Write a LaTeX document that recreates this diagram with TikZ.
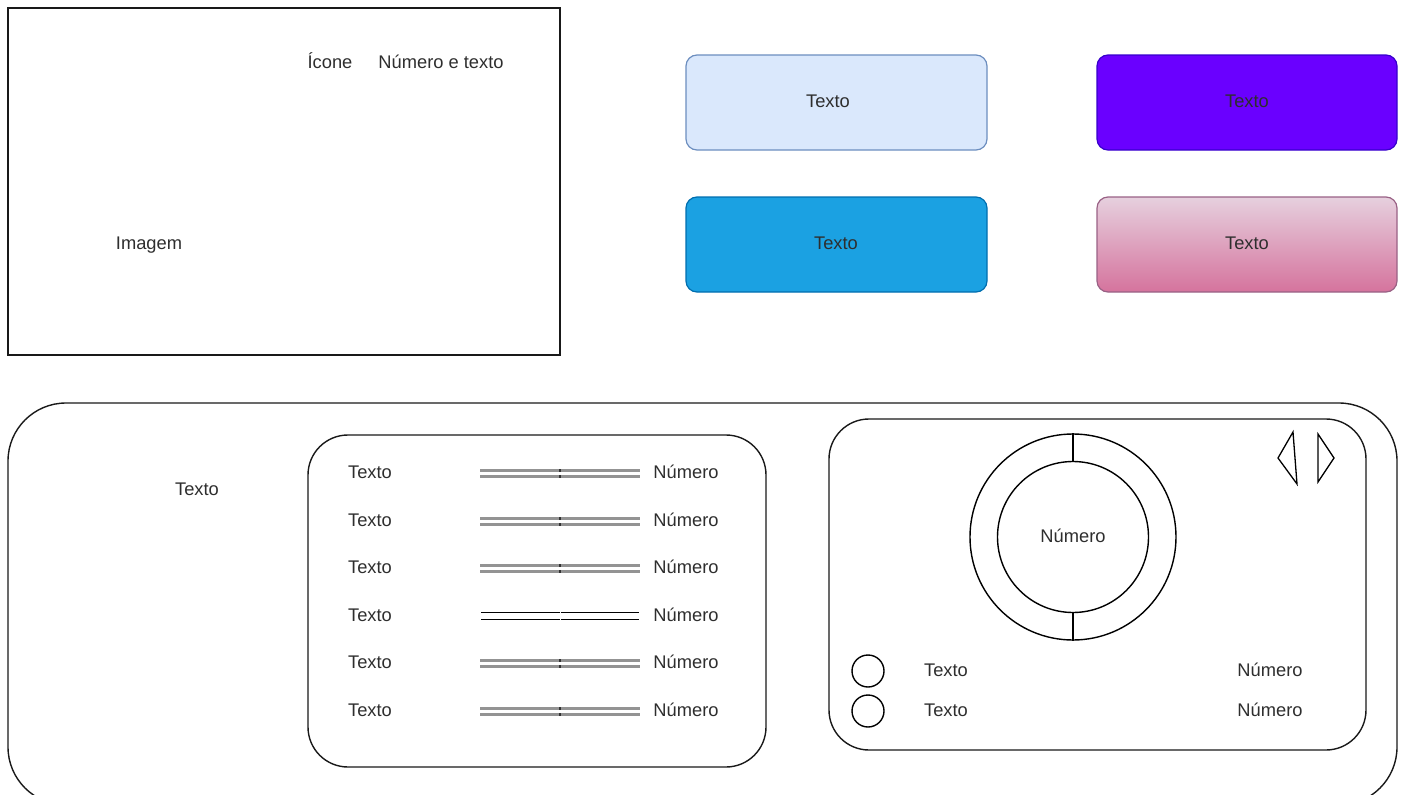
\documentclass[tikz,border=0pt]{standalone}
\usepackage{fontspec}
\setmainfont{Liberation Sans}
\begin{document}
\begin{tikzpicture}[x=1pt,y=-1pt,
  txt/.style={font=\fontsize{18.3}{20}\selectfont, text=black!82, inner sep=0pt, text height=13.1pt, text depth=0pt},
  outline/.style={draw=black!90, line width=1.4pt},
  btn/.style={rounded corners=11pt, line width=1.2pt},
  glines/.style={draw=gray!85, line width=2.4pt},
  blines/.style={draw=black, line width=1.5pt}]
\useasboundingbox (0,0) rectangle (1401,795);
\definecolor{lb}{HTML}{DAE8FC}\definecolor{lbs}{HTML}{6C8EBF}
\definecolor{vi}{HTML}{6A00FF}\definecolor{vis}{HTML}{3700CC}
\definecolor{bl}{HTML}{1BA1E2}\definecolor{bls}{HTML}{006EAF}
\definecolor{pt}{HTML}{E6D0DE}\definecolor{pb}{HTML}{D5739D}\definecolor{ps}{HTML}{996185}

% top-left image card
\draw[outline] (8,8) rectangle (560,355);
\node[txt] (icone) at (330,62) {Ícone};
\node[txt] (numtxt) at (441,62) {Número e texto};
\node[txt] (imagem) at (149,243) {Imagem};

% buttons
\draw[btn, fill=lb, draw=lbs] (686,55) rectangle (987,150);
\node[txt] (b1) at (828,101) {Texto};
\draw[btn, fill=vi, draw=vis] (1097,55) rectangle (1397,150);
\node[txt] (b2) at (1247,101) {Texto};
\draw[btn, fill=bl, draw=bls] (686,197) rectangle (987,292);
\node[txt] (b3) at (836,243) {Texto};
\draw[btn, top color=pt, bottom color=pb, draw=ps] (1097,197) rectangle (1397,292);
\node[txt] (b4) at (1247,243) {Texto};

% big panel (cut at bottom)
\begin{scope}
\clip (0,0) rectangle (1401,795);
\draw[outline, rounded corners=58pt] (8,403) rectangle (1397,805);
\end{scope}
\node[txt] (bigtxt) at (197,489) {Texto};

% middle list panel
\draw[outline, rounded corners=40pt] (308,435) rectangle (766,767);
\foreach \y/\k in {472/1,520/2,567/3,615/4,662/5,710/6}{
  \node[txt] (lt\k) at (370,\y) {Texto};
  \node[txt] (ln\k) at (686,\y) {Número};
}
\foreach \y in {472,520,567,662,710}{
  \draw[glines] (480,\y-1.5) -- (640,\y-1.5);
  \draw[glines] (480,\y+4.5) -- (640,\y+4.5);
  \fill[black!80] (559.3,\y-2.7) rectangle (560.7,\y-0.3);
  \fill[black!80] (559.3,\y+3.3) rectangle (560.7,\y+5.7);
}
\draw[blines] (481,612.5) -- (559.5,612.5) (560.5,612.5) -- (639,612.5);
\draw[blines] (481,619.5) -- (559.5,619.5) (560.5,619.5) -- (639,619.5);

% right panel
\draw[outline, rounded corners=40pt] (829,419) rectangle (1366,750);
\node[draw, line width=1.4pt, circle, minimum size=206pt, inner sep=0pt] (outer) at (1073,537) {};
\node[draw, line width=1.4pt, circle, minimum size=151pt, inner sep=0pt] (inner) at (1073,537) {};
\node[txt] (num) at (1073,536) {Número};
\draw[line width=1.4pt] (outer.north) -- (inner.north);
\draw[line width=1.4pt] (inner.south) -- (outer.south);
\draw[line width=1.3pt, line join=miter] (1293,432) -- (1278,458) -- (1297,484) -- cycle;
\draw[line width=1.3pt, line join=miter] (1318,434) -- (1334,458) -- (1318,482) -- cycle;
\node[draw, line width=1.4pt, circle, minimum size=32pt, inner sep=0pt] (c1) at (868,671) {};
\node[draw, line width=1.4pt, circle, minimum size=32pt, inner sep=0pt] (c2) at (868,711) {};
\node[txt] (rt1) at (946,670) {Texto};
\node[txt] (rt2) at (946,710) {Texto};
\node[txt] (rn1) at (1270,670) {Número};
\node[txt] (rn2) at (1270,710) {Número};
\end{tikzpicture}
\end{document}
